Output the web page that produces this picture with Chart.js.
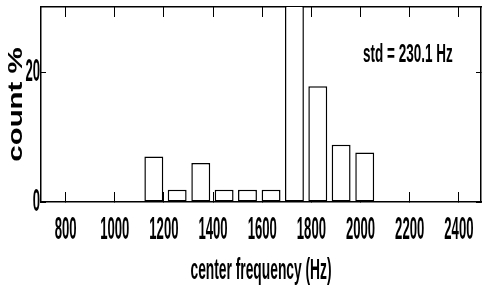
<!DOCTYPE html>
<html><head><meta charset="utf-8">
<script src="https://cdn.jsdelivr.net/npm/chart.js@4"></script>
<style>html,body{margin:0;padding:0;background:#fff}canvas{display:block}</style>
</head><body>
<canvas id="c" width="482" height="289"></canvas>
<script>
const centerFreqs = [1159, 1254, 1350, 1445, 1540, 1636, 1731, 1826, 1921, 2017];
const countPct = [7.0, 1.9, 6.0, 1.9, 1.9, 1.9, 45, 17.8, 8.8, 7.6];
const xTickValues = [800, 1000, 1200, 1400, 1600, 1800, 2000, 2200, 2400];
const yTickValues = [0, 20];
const xTitle = 'center frequency (Hz)';
const yTitle = 'count %';
const noteText = 'std = 230.1 Hz';

const FAMILY = '"Liberation Sans", Arial, Helvetica, sans-serif';
const canvas = document.getElementById('c');
const ctx = canvas.getContext('2d');
// horizontal stretch of lettering per font size, imitating the condensed type of the scanned figure
const STRETCH = { 32: 0.41, 30: 0.46, 25: 0.54, 21: 1.4 };
const stretchFor = f => {
  const m = f.match(/(\d+(?:\.\d+)?)px/);
  const k = m ? Math.round(+m[1]) : 0;
  return STRETCH[k] || 1;
};
const origFill = ctx.fillText.bind(ctx);
const origMeasure = ctx.measureText.bind(ctx);
ctx.fillText = function (t, x, y) {
  const s = stretchFor(ctx.font);
  ctx.save(); ctx.translate(x, y); ctx.scale(s, 1); origFill(t, 0, 0); ctx.restore();
};
ctx.measureText = function (t) {
  const m = origMeasure(t);
  return { width: m.width * stretchFor(ctx.font),
           actualBoundingBoxAscent: m.actualBoundingBoxAscent,
           actualBoundingBoxDescent: m.actualBoundingBoxDescent };
};

const notePlugin = {
  id: 'note',
  afterDatasetsDraw(chart, args, opts) {
    const c = chart.ctx, xs = chart.scales.x, ys = chart.scales.y;
    c.save();
    c.font = 'bold 25px ' + FAMILY;
    c.fillStyle = '#000';
    c.textAlign = 'left';
    c.textBaseline = 'middle';
    c.fillText(noteText, xs.getPixelForValue(opts.x), ys.getPixelForValue(opts.y));
    c.restore();
  }
};

const setX = s => { s.ticks = xTickValues.map(v => ({ value: v })); };
const setY = s => { s.ticks = yTickValues.map(v => ({ value: v })); };
const noPad = s => { s.paddingTop = 0; s.paddingBottom = 0; s.paddingLeft = 0; s.paddingRight = 0; };
const tickFont = { family: FAMILY, size: 32, weight: 'bold' };
const plain = v => String(v);

new Chart(ctx, {
  type: 'bar',
  data: {
    datasets: [{
      data: centerFreqs.map((f, i) => ({ x: f, y: countPct[i] })),
      backgroundColor: '#fff',
      borderColor: '#000',
      borderWidth: 1.5,
      borderSkipped: false,
      barPercentage: 0.81,
      categoryPercentage: 1,
      clip: 0
    }]
  },
  options: {
    responsive: false,
    animation: false,
    layout: { padding: { top: 7, right: 1, left: 0, bottom: 0 } },
    plugins: { legend: { display: false }, tooltip: { enabled: false }, note: { x: 2010, y: 22.6 } },
    scales: {
      x: {
        type: 'linear', position: 'bottom', min: 700, max: 2490, offset: false,
        afterBuildTicks: setX, afterFit: s => { s.height = 87; noPad(s); },
        grid: { drawOnChartArea: false, offset: false, tickLength: -10, color: '#000', lineWidth: 1 },
        border: { color: '#000', width: 1.5 },
        ticks: { color: '#000', padding: 19, font: tickFont, maxRotation: 0, autoSkip: false, callback: plain },
        title: { display: true, text: xTitle, color: '#000', font: { family: FAMILY, size: 30, weight: 'bold' }, padding: { top: 0, bottom: 0 } }
      },
      x2: {
        type: 'linear', position: 'top', min: 700, max: 2490, offset: false,
        afterBuildTicks: setX, afterFit: s => { s.height = 0; noPad(s); },
        grid: { drawOnChartArea: false, offset: false, tickLength: -10, color: '#000', lineWidth: 1 },
        border: { color: '#000', width: 1.5 },
        ticks: { display: false }
      },
      y: {
        type: 'linear', position: 'left', min: 0, max: 30,
        afterBuildTicks: setY, afterFit: s => { s.width = 41; noPad(s); },
        grid: { drawOnChartArea: false, tickLength: -5, color: '#000', lineWidth: 1 },
        border: { color: '#000', width: 1.5 },
        ticks: { color: '#000', padding: 6, font: tickFont, callback: plain },
        title: { display: true, text: yTitle, color: '#000', font: { family: FAMILY, size: 21, weight: 'bold' }, padding: { top: 4, bottom: 0 } }
      },
      y2: {
        type: 'linear', position: 'right', min: 0, max: 30,
        afterBuildTicks: setY, afterFit: s => { s.width = 0; noPad(s); },
        grid: { drawOnChartArea: false, tickLength: -5, color: '#000', lineWidth: 1 },
        border: { color: '#000', width: 1.5 },
        ticks: { display: false }
      }
    }
  },
  plugins: [notePlugin]
});
</script>
</body></html>
